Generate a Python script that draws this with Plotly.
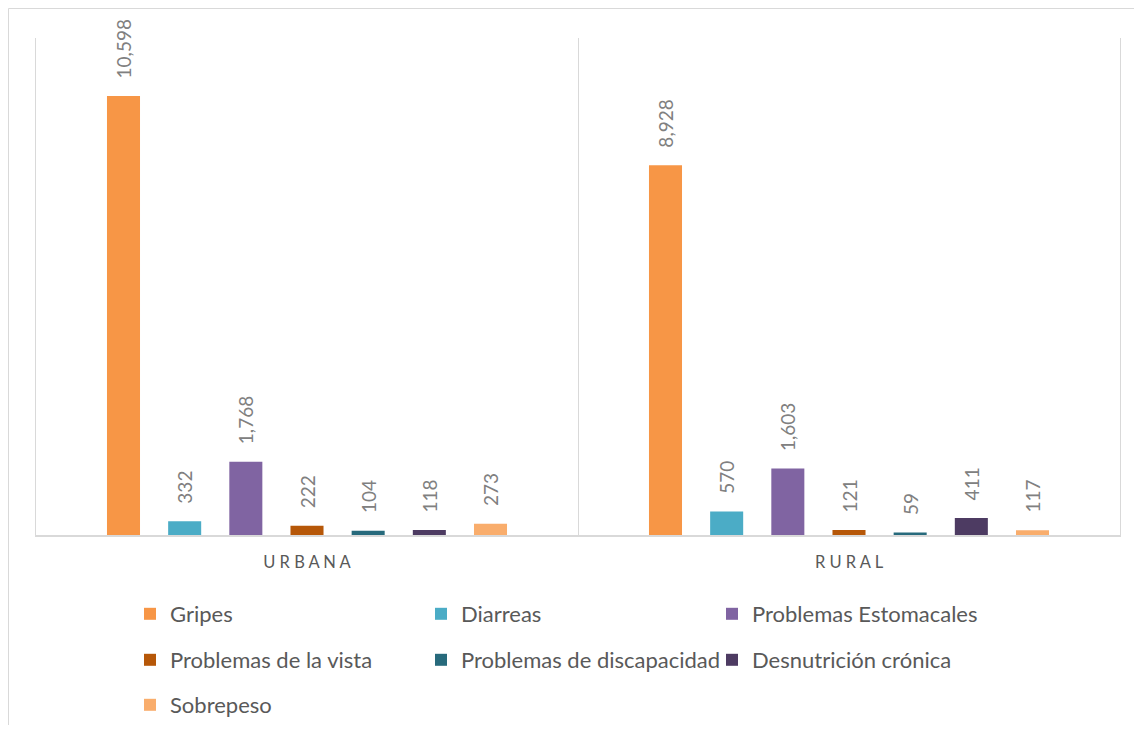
import plotly.graph_objects as go

categories = ["URBANA", "RURAL"]
category_ticktext = ["U R B A N A", "R U R A L"]
series_names = ["Gripes", "Diarreas", "Problemas Estomacales", "Problemas de la vista",
                "Problemas de discapacidad", "Desnutrición crónica", "Sobrepeso"]
gripes = [10598, 8928]
diarreas = [332, 570]
estomacales = [1768, 1603]
vista = [222, 121]
discapacidad = [104, 59]
desnutricion = [118, 411]
sobrepeso = [273, 117]
series_values = [gripes, diarreas, estomacales, vista, discapacidad, desnutricion, sobrepeso]
colors = ["#F79646", "#4BACC6", "#8064A2", "#B65708", "#276A7C", "#4D3B62", "#F9AD6C"]
legend_ids = ["legend", "legend", "legend", "legend2", "legend2", "legend2", "legend3"]

FONT = "Lato"

fig = go.Figure()
for name, vals, col, lg in zip(series_names, series_values, colors, legend_ids):
    fig.add_trace(go.Bar(
        x=categories, y=vals, name=name, marker=dict(color=col, line=dict(width=0)),
        texttemplate="\u00a0\u00a0\u00a0%{y:,.0f}", textposition="outside", textangle=-90,
        constraintext="none", cliponaxis=False,
        textfont=dict(family=FONT, size=19, color="#808080"),
        legend=lg,
    ))

# page is offset by the 8px body margin; work in page pixels and convert
OFF = 8
W, H = 1142 - 2 * OFF, 733 - 2 * OFF
plot_l, plot_r, plot_t, plot_b = 36, 1120, 38, 535  # page pixels
ml, mr, mt, mb = plot_l - OFF, W - (plot_r - OFF), plot_t - OFF, H - (plot_b - OFF)
pw, ph = W - ml - mr, H - mt - mb

def px_x(x):
    return (x - OFF - ml) / pw

def px_y(y):
    return (H - mb - (y - OFF)) / ph

def cx(x):
    return (x - OFF) / W

def cy(y):
    return 1 - (y - OFF) / H

legend_common = dict(orientation="h", xanchor="left", yanchor="middle",
                     xref="container", yref="container",
                     entrywidth=246, entrywidthmode="pixels", bgcolor="rgba(0,0,0,0)",
                     font=dict(family=FONT, size=22, color="#595959"),
                     itemwidth=30, tracegroupgap=0)

fig.update_layout(
    width=W, height=H,
    margin=dict(l=ml, r=mr, t=mt, b=mb, autoexpand=False),
    paper_bgcolor="white", plot_bgcolor="white",
    barmode="group", bargap=0.21, bargroupgap=0.46,
    showlegend=True,
    legend=dict(x=cx(130), y=cy(614), **legend_common),
    legend2=dict(x=cx(130), y=cy(660), **legend_common),
    legend3=dict(x=cx(130), y=cy(705), **legend_common),
    xaxis=dict(type="category", tickmode="array", tickvals=categories, ticktext=category_ticktext,
               tickson="boundaries", showgrid=True, gridcolor="#D9D9D9", gridwidth=1,
               showline=True, linecolor="#D9D9D9", linewidth=1.5, ticks="", ticklen=0,
               ticklabelstandoff=11,
               tickfont=dict(family=FONT, size=16.5, color="#595959"),
               range=[-0.5, 1.5], zeroline=False),
    yaxis=dict(range=[0, 12000], showgrid=False, showticklabels=False, zeroline=False,
               showline=True, mirror=True, linecolor="#D9D9D9", linewidth=1, ticks=""),
    shapes=[dict(type="rect", xref="paper", yref="paper",
                 x0=px_x(8.5), x1=px_x(1160), y0=px_y(760), y1=px_y(8.5),
                 line=dict(color="#D9D9D9", width=1), fillcolor="rgba(0,0,0,0)", layer="below")],
)

fig.write_html("out.html")
